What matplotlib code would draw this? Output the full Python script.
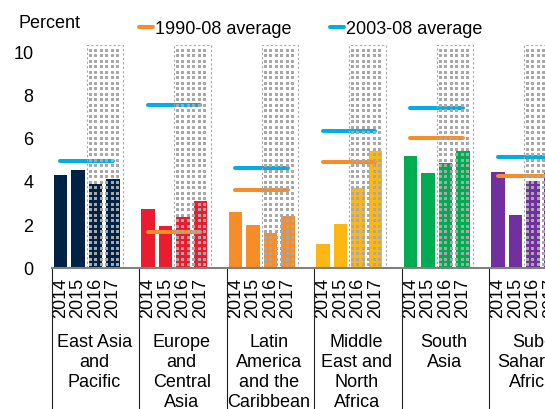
import numpy as np
import matplotlib
matplotlib.use("Agg")
import matplotlib.pyplot as plt
from matplotlib.lines import Line2D
from matplotlib.patches import Rectangle
import matplotlib.transforms as mtransforms

plt.rcParams['font.family'] = ['Liberation Sans', 'DejaVu Sans']

# ---------------- data ----------------
regions = ["East Asia\nand\nPacific", "Europe\nand\nCentral\nAsia",
           "Latin\nAmerica\nand the\nCaribbean", "Middle\nEast and\nNorth\nAfrica",
           "South\nAsia", "Sub-\nSaharan\nAfrica"]
years = ["2014", "2015", "2016", "2017"]
forecast_years = ["2016", "2017"]
growth = {
    "East Asia\nand\nPacific": [4.27, 4.52, 3.84, 4.07],
    "Europe\nand\nCentral\nAsia": [2.72, 1.93, 2.31, 3.05],
    "Latin\nAmerica\nand the\nCaribbean": [2.58, 1.95, 1.58, 2.36],
    "Middle\nEast and\nNorth\nAfrica": [1.09, 2.00, 3.67, 5.40],
    "South\nAsia": [5.15, 4.35, 4.84, 5.40],
    "Sub-\nSaharan\nAfrica": [4.41, 2.44, 3.98, 4.50],
}
avg_1990_08 = [np.nan, 1.64, 3.57, 4.86, 5.97, 4.23]
avg_2003_08 = [4.90, 7.50, 4.61, 6.32, 7.38, 5.10]
yticks = [0, 2, 4, 6, 8, 10]
shade_top = 10.3

colors = ["#002345", "#EB1C2D", "#F78D28", "#FDB714", "#00AB51", "#7030A0"]
c_avg1 = "#F78D28"
c_avg2 = "#00AEE6"
grey_pat = np.array([0.66, 0.66, 0.66, 1.0])

# ---------------- figure ----------------
W, H = 545, 410
fig = plt.figure(figsize=(W / 100, H / 100), dpi=100)
ax_left, ax_right = 51.6, 51.6 + 6 * 87.5
ax_bottom, ax_top = 268.5, 268.5 - 10.35 * 21.65
ax = fig.add_axes([ax_left / W, 1 - ax_bottom / H,
                   (ax_right - ax_left) / W, (ax_bottom - ax_top) / H])
ngrp = len(regions)
ax.set_xlim(-0.5, ngrp * 5 - 0.5)
ax.set_ylim(0, 10.35)

xt, xl = [], []
for g, reg in enumerate(regions):
    xs = g * 5 + np.arange(len(years))
    ax.bar(xs, growth[reg], width=0.78, color=colors[g], zorder=2,
           edgecolor='none')
    xt.extend(xs)
    xl.extend(years)
    # average lines
    for vals, col in ((avg_1990_08, c_avg1), (avg_2003_08, c_avg2)):
        v = vals[g]
        if not np.isnan(v):
            ax.plot([g * 5, g * 5 + 3], [v, v], color=col, lw=2.9,
                    solid_capstyle='round', zorder=3)

# forecast shading with dotted pattern
def add_pattern(x0, x1, y0, y1):
    p0 = ax.transData.transform((x0, y0))
    p1 = ax.transData.transform((x1, y1))
    w = int(round(p1[0] - p0[0]))
    h = int(round(p1[1] - p0[1]))
    img = np.zeros((h, w, 4))
    per = 5.5
    cols = np.floor(np.arange(2, w - 2, per)).astype(int)
    rows = np.floor(np.arange(2, h - 2, per)).astype(int)
    for r in rows:
        for c in cols:
            img[r:r + 3, c:c + 3] = grey_pat
    ax.imshow(img, extent=(x0, x1, y0, y1), aspect='auto',
              interpolation='nearest', zorder=5, origin='lower')
    ax.add_patch(Rectangle((x0, y0), x1 - x0, y1 - y0, fill=False,
                           edgecolor='#A6A6A6', lw=0.8, ls=(0, (2, 2)),
                           zorder=5))

for g in range(ngrp):
    i0 = years.index(forecast_years[0])
    i1 = years.index(forecast_years[-1])
    add_pattern(g * 5 + i0 - 0.5, g * 5 + i1 + 0.6, 0, shade_top)

ax.set_xlim(-0.5, ngrp * 5 - 0.5)
ax.set_ylim(0, 10.35)

# axes styling
for s in ['top', 'right', 'left']:
    ax.spines[s].set_visible(False)
ax.spines['bottom'].set_color('#808080')
ax.spines['bottom'].set_linewidth(1.5)
ax.spines['bottom'].set_zorder(6)
ax.set_yticks(yticks)
ax.set_yticklabels([str(t) for t in yticks])
ax.tick_params(axis='y', length=0, pad=13, labelsize=13)
ax.set_xticks(xt)
ax.set_xticklabels(xl, rotation=90, fontsize=13)
ax.tick_params(axis='x', length=0, pad=7)

# group separators
trans = mtransforms.blended_transform_factory(ax.transData, ax.transAxes)
for g in range(ngrp + 1):
    ax.plot([g * 5 - 0.5, g * 5 - 0.5], [0, -1.0], color='#222222', lw=0.8,
            transform=trans, clip_on=False, zorder=6)

# region labels
trans2 = mtransforms.blended_transform_factory(ax.transData, fig.transFigure)
for g, reg in enumerate(regions):
    ax.text(g * 5 + 1.93, 1 - 334 / H, reg, transform=trans2, ha='center',
            va='top', fontsize=13, linespacing=1.22, clip_on=False)

# title & legend
fig.text(19 / W, 1 - 23 / H, "Percent", fontsize=13, ha='left', va='center')
handles = [Line2D([], [], color=c_avg1, lw=2.9, solid_capstyle='round'),
           Line2D([], [], color=c_avg2, lw=2.9, solid_capstyle='round')]
fig.legend(handles, ["1990-08 average", "2003-08 average"], ncol=2,
           loc='center left', bbox_to_anchor=(138.5 / W, 1 - 30 / H),
           frameon=False, fontsize=13, handlelength=0.78, handletextpad=0.15,
           columnspacing=2.1, borderpad=0, borderaxespad=0)

fig.savefig("out.png", dpi=100)
